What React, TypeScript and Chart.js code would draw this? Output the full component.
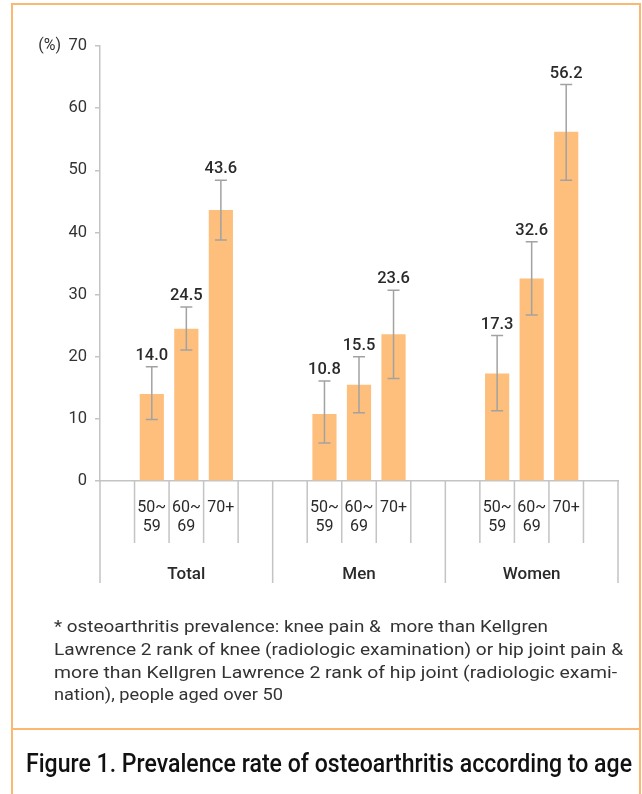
import { useEffect, useLayoutEffect, useRef } from "react";
import { Chart, registerables } from "chart.js";

Chart.register(...registerables);

// Groups and age bands on the x axis
const groups = ["Total", "Men", "Women"];
const ageBands: (string | string[])[] = [["50~", "59"], ["60~", "69"], "70+"];

// Prevalence (%) per age band
const totalRates = [14.0, 24.5, 43.6];
const menRates = [10.8, 15.5, 23.6];
const womenRates = [17.3, 32.6, 56.2];

// 95% confidence intervals [low, high]
const totalCI = [[9.9, 18.4], [21.1, 28.0], [38.8, 48.4]];
const menCI = [[6.1, 16.1], [11.0, 20.0], [16.5, 30.7]];
const womenCI = [[11.3, 23.4], [26.7, 38.5], [48.4, 63.8]];

// Y axis
const yMin = 0;
const yMax = 70;
const yStep = 10;
const yUnit = "(%)";

const footnoteLines = [
  "* osteoarthritis prevalence: knee pain &  more than Kellgren",
  "Lawrence 2 rank of knee (radiologic examination) or hip joint pain &",
  "more than Kellgren Lawrence 2 rank of hip joint (radiologic exami-",
  "nation), people aged over 50",
];
const captionText = "Figure 1. Prevalence rate of osteoarthritis according to age";

// Each group occupies five slots: a blank, three age bands, a blank
const SLOTS = 5;
const groupRates = [totalRates, menRates, womenRates];
const groupCIs = [totalCI, menCI, womenCI];
const slotLabels: (string | string[])[] = [];
const slotValues: (number | null)[] = [];
const slotCIs: (number[] | null)[] = [];
groups.forEach((_, g) => {
  slotLabels.push("", ...ageBands, "");
  slotValues.push(null, ...groupRates[g], null);
  slotCIs.push(null, ...groupCIs[g], null);
});

const FONT = "Roboto, 'DejaVu Sans', sans-serif";
const AXIS_GRAY = "#c4c4c4";
const BAR_COLOR = "#FDBF7B";
const FRAME = "#FBB870";
const TEXT = "#2a2a2a";

const decorPlugin = {
  id: "decor",
  afterDatasetsDraw(chart: any) {
    const { ctx } = chart;
    const y = chart.scales.y;
    const meta = chart.getDatasetMeta(0);
    ctx.save();
    // error bars
    slotCIs.forEach((ci, i) => {
      if (!ci) return;
      const bx = meta.data[i].x;
      const yLo = y.getPixelForValue(ci[0]);
      const yHi = y.getPixelForValue(ci[1]);
      ctx.strokeStyle = "#a2a2a2";
      ctx.lineWidth = 1.5;
      ctx.beginPath();
      ctx.moveTo(bx, yLo);
      ctx.lineTo(bx, yHi);
      ctx.moveTo(bx - 6, yLo);
      ctx.lineTo(bx + 6, yLo);
      ctx.moveTo(bx - 6, yHi);
      ctx.lineTo(bx + 6, yHi);
      ctx.stroke();
      // value label
      ctx.fillStyle = TEXT;
      ctx.font = `500 16.5px ${FONT}`;
      ctx.textAlign = "center";
      ctx.textBaseline = "middle";
      ctx.fillText((slotValues[i] as number).toFixed(1), bx, yHi - 11);
    });
    ctx.restore();
  },
  afterDraw(chart: any) {
    const { ctx } = chart;
    const x = chart.scales.x;
    const y = chart.scales.y;
    const slotW = x.width / slotLabels.length;
    const base = y.getPixelForValue(yMin);
    ctx.save();
    ctx.strokeStyle = AXIS_GRAY;
    ctx.lineWidth = 1.5;
    ctx.beginPath();
    for (let b = 0; b <= slotLabels.length; b++) {
      const px = x.left + b * slotW;
      const isGroupEdge = b % SLOTS === 0;
      ctx.moveTo(px, base);
      ctx.lineTo(px, base + (isGroupEdge ? 102 : 62));
    }
    ctx.stroke();
    // group names
    ctx.fillStyle = TEXT;
    ctx.font = `500 17px ${FONT}`;
    ctx.textAlign = "center";
    ctx.textBaseline = "middle";
    groups.forEach((name, g) => {
      const cx = x.left + (g * SLOTS + SLOTS / 2) * slotW;
      ctx.fillText(name, cx, base + 94);
    });
    // unit label
    ctx.fillStyle = "#333";
    ctx.font = `400 16px ${FONT}`;
    ctx.textAlign = "right";
    ctx.fillText(yUnit, 61, y.getPixelForValue(yMax));
    ctx.restore();
  },
};

function FitLine(props: {
  text: string;
  left: number;
  centerY: number;
  width: number;
  size: number;
  weight: number;
  color: string;
}) {
  const ref = useRef<HTMLSpanElement>(null);
  useLayoutEffect(() => {
    const fit = () => {
      const el = ref.current;
      if (!el) return;
      el.style.transform = "none";
      const w = el.getBoundingClientRect().width;
      if (w > 0) el.style.transform = `scaleX(${props.width / w})`;
    };
    fit();
    if ((document as any).fonts) (document as any).fonts.ready.then(fit);
  }, [props.text, props.width]);
  return (
    <span
      ref={ref}
      style={{
        position: "absolute",
        left: props.left,
        top: props.centerY - props.size / 2,
        fontSize: props.size,
        lineHeight: `${props.size}px`,
        fontWeight: props.weight,
        color: props.color,
        fontFamily: FONT,
        whiteSpace: "pre",
        transformOrigin: "0 50%",
      }}
    >
      {props.text}
    </span>
  );
}

const footnoteWidths = [494, 569, 563, 229];
const footnoteY = [627, 650, 673, 695];

export default function App() {
  const canvasRef = useRef<HTMLCanvasElement>(null);

  useEffect(() => {
    const canvas = canvasRef.current;
    if (!canvas) return;
    Chart.defaults.font.family = FONT;
    const chart = new Chart(canvas, {
      type: "bar",
      data: {
        labels: slotLabels,
        datasets: [
          {
            data: slotValues,
            backgroundColor: BAR_COLOR,
            barPercentage: 0.7,
            categoryPercentage: 1,
          },
        ],
      },
      options: {
        animation: false,
        responsive: false,
        maintainAspectRatio: false,
        layout: { padding: { top: 46, right: 24, left: 0, bottom: 0 } },
        plugins: { legend: { display: false }, tooltip: { enabled: false } },
        scales: {
          x: {
            grid: { display: false, drawTicks: false },
            border: { display: true, color: AXIS_GRAY, width: 1.5 },
            ticks: {
              padding: 18,
              color: TEXT,
              font: { size: 16, lineHeight: 1.18 },
              maxRotation: 0,
              autoSkip: false,
            },
            afterFit: (s: any) => {
              s.height = 119;
            },
          },
          y: {
            min: yMin,
            max: yMax,
            ticks: { stepSize: yStep, padding: 8, color: "#333", font: { size: 16.5 } },
            grid: { drawOnChartArea: false, tickLength: 5, color: AXIS_GRAY, lineWidth: 1.5 },
            border: { color: AXIS_GRAY, width: 1.5 },
            afterFit: (s: any) => {
              s.width = 100;
            },
          },
        },
      },
      plugins: [decorPlugin],
    });
    return () => chart.destroy();
  }, []);

  return (
    <div
      style={{
        position: "absolute",
        left: 0,
        top: 0,
        width: 642,
        height: 794,
        background: "#fff",
        overflow: "hidden",
      }}
    >
      <canvas
        ref={canvasRef}
        width={642}
        height={600}
        style={{ position: "absolute", left: 0, top: 0, width: 642, height: 600 }}
      />
      {/* frame */}
      <div
        style={{
          position: "absolute",
          left: 11,
          top: 3,
          width: 626,
          height: 800,
          borderLeft: `2px solid ${FRAME}`,
          borderRight: `2px solid ${FRAME}`,
          borderTop: `2px solid ${FRAME}`,
        }}
      />
      <div
        style={{
          position: "absolute",
          left: 11,
          top: 728,
          width: 630,
          height: 2,
          background: FRAME,
        }}
      />
      {footnoteLines.map((line, i) => (
        <FitLine
          key={i}
          text={line}
          left={54}
          centerY={footnoteY[i]}
          width={footnoteWidths[i]}
          size={16}
          weight={400}
          color="#333"
        />
      ))}
      <FitLine
        text={captionText}
        left={26}
        centerY={763}
        width={606}
        size={25}
        weight={500}
        color="#111"
      />
    </div>
  );
}
